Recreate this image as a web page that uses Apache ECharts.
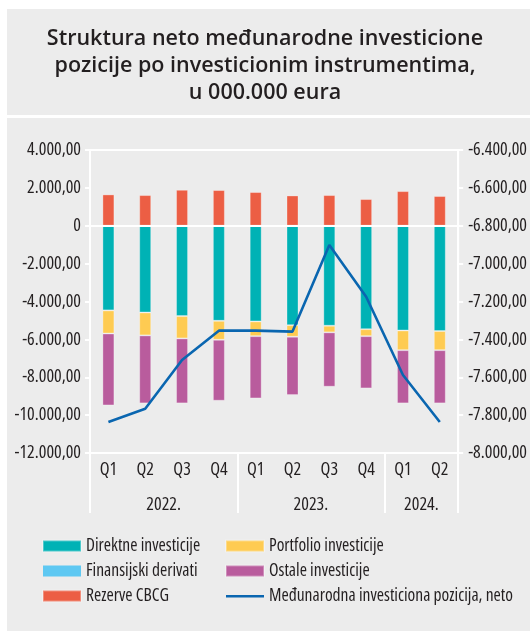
<!DOCTYPE html>
<html>
<head>
<meta charset="utf-8">
<script src="https://cdn.jsdelivr.net/npm/echarts@6/dist/echarts.min.js"></script>
<style>
  html, body { margin: 0; padding: 0; background: #fff; }
  #wrap { position: relative; width: 530px; height: 631px; }
  .panel { position: absolute; background: #ececec; }
  #chart { position: absolute; left: 0; top: 0; width: 530px; height: 631px; }
</style>
</head>
<body>
<div id="wrap">
  <div class="panel" style="left:7px;top:9px;width:523px;height:106px"></div>
  <div class="panel" style="left:7px;top:118px;width:523px;height:513px"></div>
  <div id="chart"></div>
</div>
<script>
// categories
const quarters = ['Q1', 'Q2', 'Q3', 'Q4', 'Q1', 'Q2', 'Q3', 'Q4', 'Q1', 'Q2'];
const years = ['2022.', '2023.', '2024.'];
const quartersPerYear = [4, 4, 2];

// values, mil. eura
const direktne = [-4470, -4580, -4770, -5020, -5050, -5250, -5280, -5460, -5530, -5560];
const portfolio = [-1220, -1210, -1180, -1000, -780, -610, -350, -370, -1040, -1010];
const derivati = [0, 0, 0, 0, 0, 0, 0, 0, 0, 0];
const ostale = [-3800, -3590, -3430, -3220, -3290, -3080, -2870, -2760, -2810, -2810];
const rezerve = [1655, 1620, 1900, 1885, 1780, 1600, 1620, 1410, 1830, 1570];
const mipNeto = [-7836, -7766, -7509, -7354, -7354, -7359, -6902, -7175, -7588, -7836];

// condensed face: font-stretch goes through fontStyle into the canvas font string
const NARROW = '"Open Sans", "Noto Sans", sans-serif';
const STRETCH = 'condensed';
const TXT = '#231f20';

function fmt(v) {
    if (v === 0) return '0';
    const s = Math.abs(Math.round(v)).toString().replace(/\B(?=(\d{3})+(?!\d))/g, '.');
    return (v < 0 ? '-' : '') + s + ',00';
}

// year axis: half-slot positions, boundaries and group centres
const yearSlots = new Array(quarters.length * 2 + 1).fill('');
const yearBounds = [0];
let start = 0;
quartersPerYear.forEach((n, i) => {
    yearSlots[2 * start + n] = years[i];
    start += n;
    yearBounds.push(2 * start);
});

const lineIcon = 'path://M0,0M0,4.5L38,4.5L38,7L0,7ZM38,11';

const chart = echarts.init(document.getElementById('chart'));

const barBase = {
    type: 'bar',
    stack: 'uk',
    barWidth: 12,
    xAxisIndex: 0,
    yAxisIndex: 0
};

const labelStyle = { fontFamily: NARROW, fontStyle: STRETCH, fontSize: 18, color: TXT };
const legendText = { fontFamily: NARROW, fontStyle: STRETCH, fontSize: 17.5, lineHeight: 16, color: TXT };

const option = {
    animation: false,
    title: {
        text: 'Struktura neto međunarodne investicione\npozicije po investicionim instrumentima,\nu 000.000 eura',
        left: 'center',
        top: 20,
        textStyle: {
            fontFamily: '"Open Sans", sans-serif',
            fontSize: 21.5,
            fontWeight: 600,
            lineHeight: 27,
            color: TXT
        }
    },
    legend: [
        {
            left: 42, top: 537, orient: 'vertical', padding: 0,
            itemWidth: 38, itemHeight: 11, itemGap: 7, itemTextGap: 5,
            data: [
                { name: 'Direktne investicije', icon: 'rect' },
                { name: 'Finansijski derivati', icon: 'rect' },
                { name: 'Rezerve CBCG', icon: 'rect' }
            ],
            textStyle: legendText
        },
        {
            left: 225, top: 537, orient: 'vertical', padding: 0,
            itemWidth: 38, itemHeight: 11, itemGap: 7, itemTextGap: 5,
            data: [
                { name: 'Portfolio investicije', icon: 'rect' },
                { name: 'Ostale investicije', icon: 'rect' },
                { name: 'Međunarodna investiciona pozicija, neto', icon: lineIcon }
            ],
            textStyle: legendText
        }
    ],
    grid: {
        left: 90, right: 71, top: 150, bottom: 178,
        show: true, borderColor: '#fff', borderWidth: 2, backgroundColor: 'transparent'
    },
    xAxis: [
        {
            type: 'category',
            data: quarters,
            position: 'bottom',
            axisLine: { show: true, lineStyle: { color: '#fff', width: 2 } },
            axisTick: { show: false },
            axisLabel: Object.assign({ margin: 8 }, labelStyle)
        },
        {
            type: 'category',
            data: yearSlots,
            boundaryGap: false,
            position: 'bottom',
            axisLine: { show: false },
            axisTick: {
                show: true,
                length: 60,
                interval: (i) => yearBounds.includes(i),
                lineStyle: { color: '#fff', width: 2 }
            },
            axisLabel: Object.assign({ interval: (i, v) => v !== '', margin: 43 }, labelStyle)
        }
    ],
    yAxis: [
        {
            type: 'value',
            min: -12000, max: 4000, interval: 2000,
            position: 'left',
            splitLine: { show: false },
            axisLine: { show: true, lineStyle: { color: '#fff', width: 2 } },
            axisTick: { show: true, length: 5, lineStyle: { color: '#fff', width: 2 } },
            axisLabel: Object.assign({ formatter: fmt, margin: 9 }, labelStyle)
        },
        {
            type: 'value',
            min: -8000, max: -6400, interval: 200,
            position: 'right',
            splitLine: { show: false },
            axisLine: { show: true, lineStyle: { color: '#fff', width: 2 } },
            axisTick: { show: true, length: 5, lineStyle: { color: '#fff', width: 2 } },
            axisLabel: Object.assign({ formatter: fmt, margin: 10 }, labelStyle)
        }
    ],
    series: [
        Object.assign({}, barBase, {
            name: 'Direktne investicije', data: direktne,
            itemStyle: { color: '#00b2b5', borderColor: 'rgba(255,255,255,0.3)', borderWidth: 1 }
        }),
        Object.assign({}, barBase, {
            name: 'Portfolio investicije', data: portfolio,
            itemStyle: { color: '#fecb52', borderColor: 'rgba(255,255,255,0.3)', borderWidth: 1 }
        }),
        Object.assign({}, barBase, {
            name: 'Finansijski derivati', data: derivati,
            itemStyle: { color: '#5ec8f2' }
        }),
        Object.assign({}, barBase, {
            name: 'Ostale investicije', data: ostale,
            itemStyle: { color: '#b95c9d', borderColor: 'rgba(255,255,255,0.3)', borderWidth: 1 }
        }),
        Object.assign({}, barBase, {
            name: 'Rezerve CBCG', data: rezerve,
            itemStyle: { color: '#ec5e44', borderColor: 'rgba(255,255,255,0.3)', borderWidth: 1 },
            markLine: {
                silent: true,
                symbol: 'none',
                label: { show: false },
                lineStyle: { color: '#fff', width: 2, type: 'solid' },
                data: [{ yAxis: 0 }]
            }
        }),
        {
            name: 'Međunarodna investiciona pozicija, neto',
            type: 'line',
            data: mipNeto,
            xAxisIndex: 0,
            yAxisIndex: 1,
            symbol: 'none',
            z: 5,
            lineStyle: { color: '#0a66b0', width: 2.6 },
            itemStyle: { color: '#0a66b0' }
        }
    ]
};

chart.setOption(option);
</script>
</body>
</html>
